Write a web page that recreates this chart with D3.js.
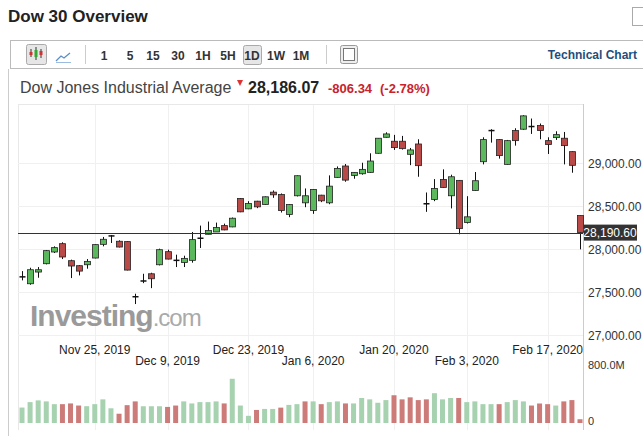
<!DOCTYPE html>
<meta charset="utf-8">
<script src="https://d3js.org/d3.v7.min.js"></script>
<style>
  body { margin: 0; background: #fff; font-family: Arial, "Liberation Sans", sans-serif; }
</style>
<div id="chart"></div>
<script>
// trading days shown, Nov 12 2019 .. Feb 24 2020
var dates = ["2019-11-12","2019-11-13","2019-11-14","2019-11-15","2019-11-18","2019-11-19","2019-11-20","2019-11-21","2019-11-22",
  "2019-11-25","2019-11-26","2019-11-27","2019-11-29","2019-12-02","2019-12-03","2019-12-04","2019-12-05","2019-12-06",
  "2019-12-09","2019-12-10","2019-12-11","2019-12-12","2019-12-13","2019-12-16","2019-12-17","2019-12-18","2019-12-19","2019-12-20",
  "2019-12-23","2019-12-24","2019-12-26","2019-12-27","2019-12-30","2019-12-31","2020-01-02","2020-01-03",
  "2020-01-06","2020-01-07","2020-01-08","2020-01-09","2020-01-10","2020-01-13","2020-01-14","2020-01-15","2020-01-16","2020-01-17",
  "2020-01-21","2020-01-22","2020-01-23","2020-01-24","2020-01-27","2020-01-28","2020-01-29","2020-01-30","2020-01-31",
  "2020-02-03","2020-02-04","2020-02-05","2020-02-06","2020-02-07","2020-02-10","2020-02-11","2020-02-12","2020-02-13","2020-02-14",
  "2020-02-18","2020-02-19","2020-02-20","2020-02-21","2020-02-24"];
var open  = [27673,27596,27732,27829,27965,28062,27864,27806,27817,27895,28054,28148,28090,28086,27440,27623,27712,27817,27969,27864,
  27844,27868,28122,28171,28198,28272,28257,28587,28467,28556,28517,28661,28634,28401,28619,28537,28447,28626,28537,28833,
  28965,28856,28875,28891,29113,29299,29253,29253,29101,29221,28525,28576,28809,28619,28798,28307,28681,29015,29375,29272,
  28984,29377,29393,29423,29435,29260,29295,29288,29132,28389];
var close = [27676,27759,27759,27981,28016,27907,27802,27743,27856,28051,28113,28152,28023,27755,27445,27628,27654,27992,27883,27868,
  27891,28109,28125,28214,28249,28222,28358,28432,28529,28490,28607,28630,28447,28517,28852,28619,28693,28560,28731,28937,
  28801,28891,28926,29023,29288,29338,29179,29167,29152,28969,28526,28704,28716,28840,28237,28374,28794,29272,29377,29086,
  29260,29260,29548,29424,29377,29214,29330,29202,28973,28191];
var high  = [27743,27782,27790,27988,28031,28078,27876,27813,27883,28055,28140,28163,28101,28090,27480,27712,27724,28004,27992,27934,
  27922,28198,28272,28319,28307,28295,28366,28591,28556,28560,28611,28681,28646,28521,28856,28704,28697,28630,28856,28960,
  28988,28895,29003,29113,29288,29357,29327,29315,29175,29276,28657,28813,28926,28864,28801,28614,28895,29299,29393,29276,
  29268,29404,29556,29517,29459,29299,29369,29361,29136,28389];
var low   = [27635,27584,27666,27821,27953,27883,27662,27693,27771,27891,28031,28070,28018,27751,27360,27603,27545,27809,27879,27790,
  27790,27841,28012,28171,28198,28218,28253,28428,28463,28475,28513,28595,28424,28370,28611,28486,28409,28545,28521,28829,
  28782,28817,28864,28887,29109,29295,29152,29156,28975,28840,28432,28556,28712,28472,28171,28296,28677,28984,29237,29051,
  28980,29202,29385,29338,29276,29105,29268,28984,28887,27996];
// volume in millions
var volume = [213,288,312,298,260,260,270,241,232,260,326,203,128,246,298,231,231,231,222,241,298,270,288,288,298,270,610,241,99,180,
  194,194,212,250,260,298,298,260,288,298,270,270,345,326,279,316,383,326,354,316,326,411,326,345,345,288,298,260,260,260,
  288,316,298,241,269,260,241,298,316,52];
var priceTicks = [27000,27500,28000,28500,29000];
var lastPrice = 28190.60;
var dateTicks = [["2019-11-25","Nov 25, 2019",0],["2019-12-09","Dec 9, 2019",1],["2019-12-23","Dec 23, 2019",0],
  ["2020-01-06","Jan 6, 2020",1],["2020-01-21","Jan 20, 2020",0],["2020-02-03","Feb 3, 2020",1],["2020-02-18","Feb 17, 2020",0]];

var W = 643, H = 436;
var svg = d3.select("#chart").append("svg").attr("width", W).attr("height", H);

// header
svg.append("text").attr("x", 8).attr("y", 22).attr("font-size", 17).attr("font-weight", "bold")
  .attr("fill", "#222").text("Dow 30 Overview");
svg.append("rect").attr("x", 632.5).attr("y", 7.5).attr("width", 20).attr("height", 18).attr("fill", "#fff").attr("stroke", "#aaa");

// toolbar
svg.append("rect").attr("x", 10.5).attr("y", 40.5).attr("width", 640).attr("height", 28).attr("fill", "#fff").attr("stroke", "#bbb");
svg.append("rect").attr("x", 26.5).attr("y", 44.5).attr("width", 20).attr("height", 20).attr("rx", 2).attr("fill", "#e6e6e6").attr("stroke", "#aaa");
[[31, 49, 57, 52, 55, "#c33"], [36, 47, 60, 50, 57, "#3a3"], [41, 49, 58, 51, 55, "#c33"]].forEach(function (c) {
  svg.append("line").attr("x1", c[0]).attr("x2", c[0]).attr("y1", c[1]).attr("y2", c[2]).attr("stroke", "#333");
  svg.append("rect").attr("x", c[0] - 1.5).attr("y", c[3]).attr("width", 3).attr("height", c[4] - c[3]).attr("fill", c[5]);
});
svg.append("path").attr("d", "M56,61 L61,56 L64,58 L70,53").attr("fill", "none").attr("stroke", "#5b8fc7").attr("stroke-width", 1.3);
svg.append("line").attr("x1", 56).attr("x2", 71).attr("y1", 62.5).attr("y2", 62.5).attr("stroke", "#9bbbe0");
[85.5, 326.5].forEach(function (x) {
  svg.append("line").attr("x1", x).attr("x2", x).attr("y1", 45).attr("y2", 64).attr("stroke", "#ccc");
});
var periods = ["1", "5", "15", "30", "1H", "5H", "1D", "1W", "1M"];
var px = [104, 130, 153, 178, 203, 228, 252, 276, 301];
svg.append("rect").attr("x", 243.5).attr("y", 45.5).attr("width", 18).attr("height", 19).attr("rx", 2).attr("fill", "#e6e6e6").attr("stroke", "#aaa");
periods.forEach(function (p, i) {
  svg.append("text").attr("x", px[i]).attr("y", 60).attr("text-anchor", "middle").attr("font-size", 12)
    .attr("font-weight", "bold").attr("fill", "#333").text(p);
});
svg.append("rect").attr("x", 340.5).attr("y", 45.5).attr("width", 17).attr("height", 18).attr("rx", 2).attr("fill", "#eee").attr("stroke", "#999");
svg.append("rect").attr("x", 343.5).attr("y", 48.5).attr("width", 11).attr("height", 12).attr("fill", "#fff").attr("stroke", "#777");
svg.append("text").attr("x", 637).attr("y", 59).attr("text-anchor", "end").attr("font-size", 12)
  .attr("font-weight", "bold").attr("fill", "#1f4e7a").text("Technical Chart");
svg.append("line").attr("x1", 8.5).attr("x2", 8.5).attr("y1", 69).attr("y2", H).attr("stroke", "#ccc");

// quote line
svg.append("text").attr("x", 20).attr("y", 93).attr("font-size", 16).attr("fill", "#444").text("Dow Jones Industrial Average");
svg.append("path").attr("d", "M237,80 L243,80 L240,86 Z").attr("fill", "#d33");
svg.append("text").attr("x", 248).attr("y", 93).attr("font-size", 16).attr("font-weight", "bold").attr("fill", "#222").text("28,186.07");
svg.append("text").attr("x", 328).attr("y", 93).attr("font-size", 13).attr("font-weight", "bold").attr("fill", "#c8232c").text("-806.34");
svg.append("text").attr("x", 380).attr("y", 93).attr("font-size", 13).attr("font-weight", "bold").attr("fill", "#c8232c").text("(-2.78%)");

// scales
var left = 18, right = 583;
var x = d3.scalePoint().domain(dates).range([22, 580]);
var y = d3.scaleLinear().domain([27000, 29000]).range([335, 163]);
var yv = d3.scaleLinear().domain([0, 800]).range([423, 365]);

// frame + grid
var g = svg.append("g");
g.append("line").attr("x1", left).attr("x2", right).attr("y1", 104.5).attr("y2", 104.5).attr("stroke", "#e8e8e8");
g.append("line").attr("x1", left + 0.5).attr("x2", left + 0.5).attr("y1", 104).attr("y2", 430).attr("stroke", "#e8e8e8");
priceTicks.forEach(function (t) {
  g.append("line").attr("x1", left).attr("x2", right).attr("y1", Math.round(y(t)) + 0.5).attr("y2", Math.round(y(t)) + 0.5).attr("stroke", "#f0f0f0");
  g.append("text").attr("x", 588).attr("y", y(t) + 5).attr("font-size", 12).attr("fill", "#333")
    .text(d3.format(",.2f")(t));
});
dateTicks.forEach(function (d) {
  var xx = Math.round(x(d[0])) + 0.5;
  g.append("line").attr("x1", xx).attr("x2", xx).attr("y1", 105).attr("y2", 430).attr("stroke", "#f0f0f0");
});
g.append("line").attr("x1", right + 0.5).attr("x2", right + 0.5).attr("y1", 104).attr("y2", 430).attr("stroke", "#ccc");

// logo
var logo = svg.append("text").attr("x", 30).attr("y", 326).attr("font-size", 30).attr("font-weight", "bold").attr("fill", "#9a9a9a")
  .attr("letter-spacing", "-1");
logo.append("tspan").text("Investing");
logo.append("tspan").attr("font-weight", "normal").attr("font-size", 24).attr("fill", "#aaa").text(".com");

// candles
var bw = 5;
dates.forEach(function (d, i) {
  var cx = Math.round(x(d)) + 0.5;
  var up = close[i] >= open[i];
  g.append("line").attr("x1", cx).attr("x2", cx).attr("y1", y(high[i])).attr("y2", y(low[i])).attr("stroke", "#111");
  var top = y(Math.max(open[i], close[i])), bot = y(Math.min(open[i], close[i]));
  if (bot - top < 1.5) {
    g.append("line").attr("x1", cx - 3).attr("x2", cx + 3).attr("y1", top).attr("y2", top).attr("stroke", "#111").attr("stroke-width", 1.5);
  } else {
    g.append("rect").attr("x", cx - bw / 2 - 0.5).attr("y", top).attr("width", bw + 1).attr("height", bot - top)
      .attr("fill", up ? "#5cb85c" : "#b94a48").attr("stroke", "#222").attr("stroke-width", 0.8);
  }
});

// last price line
g.append("line").attr("x1", left).attr("x2", right).attr("y1", Math.round(y(lastPrice)) + 0.5).attr("y2", Math.round(y(lastPrice)) + 0.5)
  .attr("stroke", "#333");
g.append("rect").attr("x", 584).attr("y", y(lastPrice) - 8).attr("width", 53).attr("height", 16).attr("fill", "#333");
g.append("text").attr("x", 610).attr("y", y(lastPrice) + 4.5).attr("text-anchor", "middle").attr("font-size", 12).attr("fill", "#fff")
  .text(d3.format(",.2f")(lastPrice));

// date labels
dateTicks.forEach(function (d) {
  g.append("text").attr("x", x(d[0])).attr("y", d[2] ? 365 : 354).attr("text-anchor", "middle").attr("font-size", 12)
    .attr("fill", "#222").text(d[1]);
});

// volume
g.append("text").attr("x", 588).attr("y", yv(800) + 4).attr("font-size", 11).attr("fill", "#333").text("800.0M");
g.append("text").attr("x", 588).attr("y", yv(0) + 2).attr("font-size", 11).attr("fill", "#333").text("0");
volume.forEach(function (v, i) {
  var up = i === 0 || close[i] >= close[i - 1];
  g.append("rect").attr("x", x(dates[i]) - 2.5).attr("y", yv(v)).attr("width", 5).attr("height", yv(0) - yv(v))
    .attr("fill", up ? "#a6d2b0" : "#cd7b79");
});
</script>
